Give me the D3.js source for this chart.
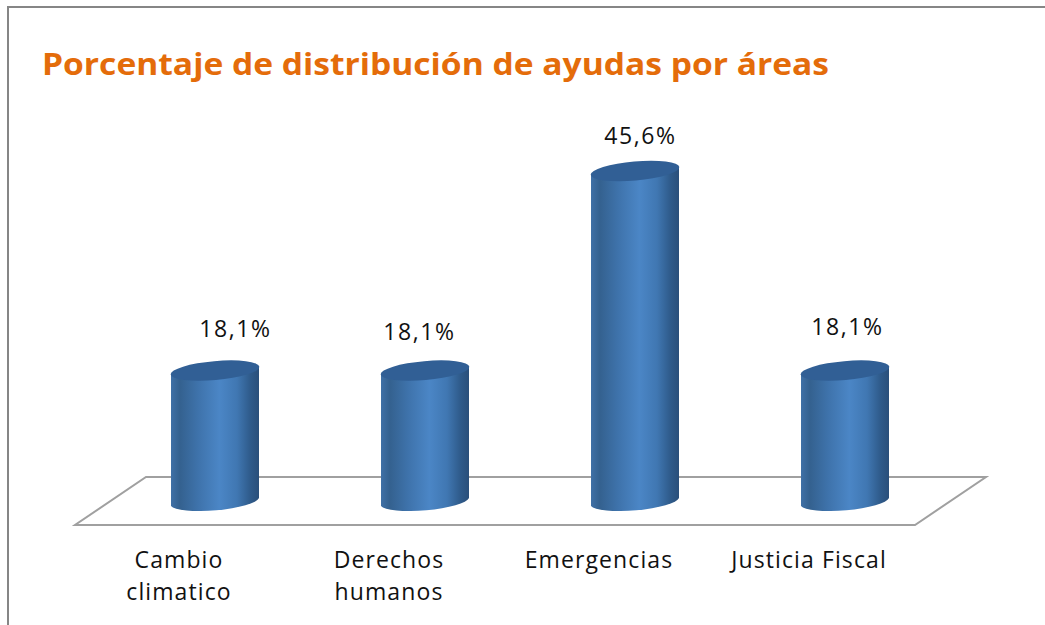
<!DOCTYPE html>
<html><head><meta charset="utf-8">
<script src="https://cdn.jsdelivr.net/npm/d3@7/dist/d3.min.js"></script>
<style>html,body{margin:0;padding:0;background:#fff;overflow:hidden}svg{display:block}</style>
</head><body><svg id="c" width="1045" height="625"></svg>
<script>
const chartTitle = "Porcentaje de distribución de ayudas por áreas";
const categories = ["Cambio climatico", "Derechos humanos", "Emergencias", "Justicia Fiscal"];
const values = [18.1, 18.1, 45.6, 18.1];
const labelNudgeX = [20, -6, 5, 2];
const labelNudgeY = [0, 3, 7, -2];

const svg = d3.select("#c");
const font = "'Open Sans', sans-serif";
const W = 840, floorFrontY = 525, floorBackY = 477, depthX = 71, floorLeft = 75;
const baseY = 502, rx = 44, ry = 9.5, tilt = -5, skew = 4;

const defs = svg.append("defs");
const g = defs.append("linearGradient").attr("id", "cyl").attr("x1", 0).attr("x2", 1).attr("y1", 0).attr("y2", 0);
[[0, "#3f70a6"], [0.1, "#34618f"], [0.3, "#3e72aa"], [0.55, "#4b86c6"], [0.75, "#4077b2"], [0.9, "#2f5b8b"], [1, "#2a4f7a"]]
  .forEach(([o, c]) => g.append("stop").attr("offset", o).attr("stop-color", c));

// frame
svg.append("path").attr("d", "M8,625V7H1045").attr("fill", "none").attr("stroke", "#868686").attr("stroke-width", 2);

// title
svg.append("text").attr("x", 42).attr("y", 75).attr("font-family", font).attr("font-weight", 700)
  .attr("font-size", 31).attr("fill", "#e46c0a").attr("textLength", 787).attr("lengthAdjust", "spacingAndGlyphs").text(chartTitle);

const xFront = d3.scaleBand().domain(categories).range([floorLeft, floorLeft + W]);
const xCyl = d3.scaleBand().domain(categories).range([floorLeft + depthX / 2, floorLeft + W + depthX / 2]);
const y = d3.scaleLinear().domain([0, 50]).range([baseY, baseY - 363]);

// floor
svg.append("path")
  .attr("d", d3.line()([[floorLeft, floorFrontY], [floorLeft + W, floorFrontY], [floorLeft + W + depthX, floorBackY], [floorLeft + depthX, floorBackY]]) + "Z")
  .attr("fill", "none").attr("stroke", "#a0a0a0").attr("stroke-width", 2);

// cylinders
const marks = svg.selectAll("g.cyl").data(categories.map((c, i) => ({ c, v: values[i], i }))).join("g").attr("class", "cyl");
marks.append("path").attr("fill", "url(#cyl)").attr("d", d => {
  const cx = xCyl(d.c) + xCyl.bandwidth() / 2 - .5, t = y(d.v);
  return `M${cx - rx},${t + skew}L${cx - rx},${baseY + skew}A${rx + .5},${ry},${tilt},0,0,${cx + rx},${baseY - skew}L${cx + rx},${t - skew}Z`;
});
marks.append("ellipse").attr("fill", "#315f95")
  .attr("rx", rx + .5).attr("ry", ry)
  .attr("transform", d => `translate(${xCyl(d.c) + xCyl.bandwidth() / 2 - .5},${y(d.v)}) rotate(${tilt})`);

// value labels
marks.append("text").attr("text-anchor", "middle").attr("font-family", font).attr("font-size", 23).attr("letter-spacing", 1.6).attr("fill", "#111")
  .attr("x", d => xCyl(d.c) + xCyl.bandwidth() / 2 + labelNudgeX[d.i])
  .attr("y", d => y(d.v) - 34 + labelNudgeY[d.i])
  .text(d => d.v.toFixed(1).replace(".", ",") + "%");

// category axis
const axis = svg.append("g").attr("transform", `translate(0,${floorFrontY})`)
  .call(d3.axisBottom(xFront).tickSize(0).tickPadding(0));
axis.select(".domain").remove();
axis.selectAll(".tick text").each(function (d) {
  const t = d3.select(this).text(null).attr("y", 0).attr("dy", null).attr("font-family", font).attr("font-size", 23).attr("letter-spacing", 1.1).attr("fill", "#111");
  const words = d === "Justicia Fiscal" ? [d] : d.split(" ");
  words.forEach((w, k) => t.append("tspan").attr("x", -1).attr("y", 43 + k * 32).text(w));
});
</script></body></html>
